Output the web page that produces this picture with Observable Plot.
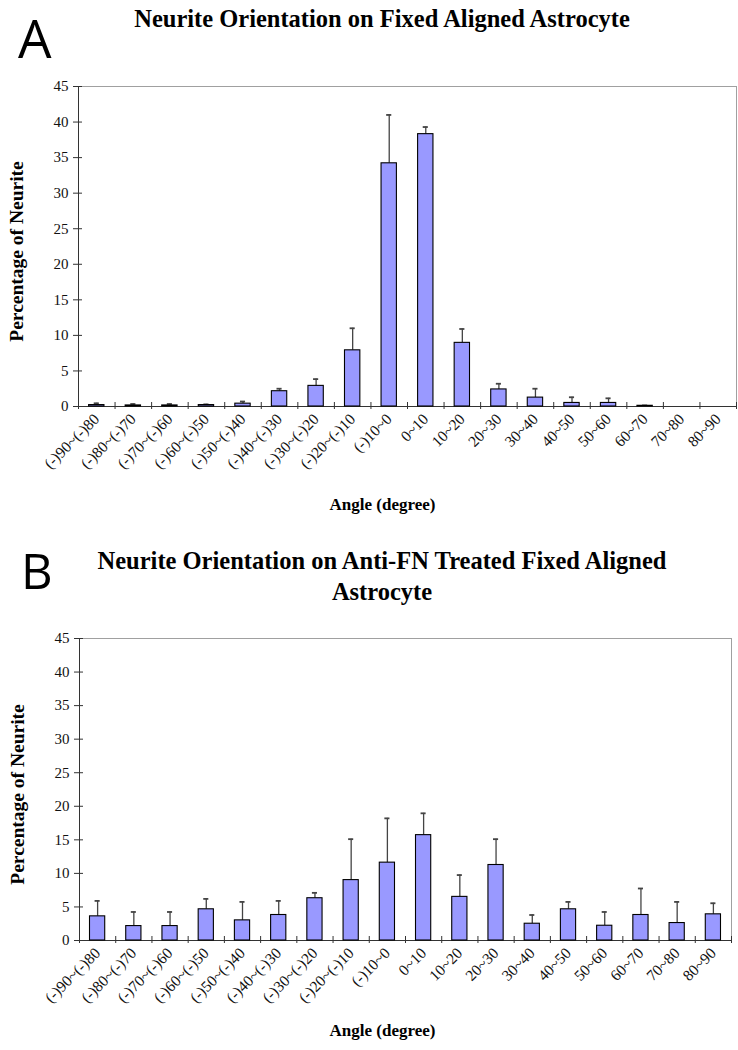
<!DOCTYPE html>
<html>
<head>
<meta charset="utf-8">
<script src="https://cdn.jsdelivr.net/npm/d3@7"></script>
<script src="https://cdn.jsdelivr.net/npm/@observablehq/plot@0.6"></script>
<style>
  html, body { margin: 0; padding: 0; background: #fff; }
  #page { position: relative; width: 738px; height: 1050px; overflow: hidden; }
  .panel { position: absolute; left: 0; font-family: "Open Sans", sans-serif; font-size: 53px; line-height: 53px; color: #000; }
  .title { position: absolute; left: 0; width: 764px; text-align: center; font-family: "Liberation Serif", "Times New Roman", serif; font-weight: bold; font-size: 24.5px; color: #000; }
  .chart { position: absolute; left: 0; }
</style>
</head>
<body>
<div id="page">
  <div class="panel" style="left:18px; top:11px;">A</div>
  <div class="title" style="top:7px; line-height:24px;">Neurite Orientation on Fixed Aligned Astrocyte</div>
  <div class="chart" id="chartA" style="top:60px;"></div>
  <div class="panel" style="left:21px; top:546px; font-size:49px; line-height:49px;">B</div>
  <div class="title" style="top:545px; line-height:31px;">Neurite Orientation on Anti-FN Treated Fixed Aligned<br>Astrocyte</div>
  <div class="chart" id="chartB" style="top:610px;"></div>
</div>
<script>
// Categories (angle bins)
const categories = ["(-)90~(-)80","(-)80~(-)70","(-)70~(-)60","(-)60~(-)50","(-)50~(-)40","(-)40~(-)30","(-)30~(-)20","(-)20~(-)10","(-)10~0","0~10","10~20","20~30","30~40","40~50","50~60","60~70","70~80","80~90"];

// Panel A: Fixed aligned astrocyte
const valuesA = [0.2,0.15,0.15,0.2,0.4,2.15,2.9,7.9,34.2,38.3,8.95,2.4,1.25,0.5,0.5,0.1,0,0];
const errorsA = [0.25,0.2,0.2,0.1,0.3,0.35,0.95,3.1,6.8,1.0,1.95,0.8,1.25,0.8,0.65,0.05,0,0];

// Panel B: Anti-FN treated fixed aligned astrocyte
const valuesB = [3.6,2.15,2.15,4.65,3.0,3.8,6.3,9.0,11.6,15.7,6.5,11.25,2.5,4.65,2.2,3.8,2.6,3.9];
const errorsB = [2.3,2.1,2.1,1.55,2.75,2.1,0.8,6.1,6.6,3.25,3.25,3.85,1.3,1.1,2.05,3.95,3.15,1.65];

const yTicks = d3.range(0, 46, 5);
const yLabel = "Percentage of Neurite";
const xLabel = "Angle (degree)";

function makeChart(values, errors, o) {
  const data = categories.map((c, i) => ({i, c, v: values[i], e: errors[i]}));
  const bars = data.filter(d => d.v > 0);
  const errs = data.filter(d => d.e > 0);
  const boundaries = d3.range(categories.length + 1);
  const centers = d3.range(categories.length).map(i => i + 0.5);
  return Plot.plot({
    width: 738,
    height: o.height,
    marginTop: o.marginTop,
    marginBottom: o.marginBottom,
    marginLeft: o.marginLeft,
    marginRight: o.marginRight,
    style: {fontFamily: "'Liberation Serif', 'Times New Roman', serif", fontSize: "14px", color: "#111", background: "#fff"},
    x: {domain: [0, categories.length]},
    y: {domain: [0, 45]},
    marks: [
      Plot.frame({stroke: "#a0a0a0"}),
      Plot.ruleY([0], {stroke: "#333"}),
      Plot.ruleX([0], {stroke: "#333"}),
      Plot.axisY({ticks: yTicks, tickSize: 5, tickPadding: 5, stroke: "#333", fontSize: 15, label: null}),
      Plot.axisY({ticks: yTicks, tickSize: -4, tickFormat: () => "", stroke: "#333", label: null}),
      Plot.axisX({ticks: boundaries, tickSize: 3, tickFormat: () => "", stroke: "#333", label: null}),
      Plot.axisX({ticks: boundaries, tickSize: -4, tickFormat: () => "", stroke: "#333", label: null}),
      Plot.axisX({ticks: centers, tickSize: 0, tickPadding: 10, tickRotate: -45, tickFormat: t => categories[Math.floor(t)], fontSize: 15.5, label: null}),
      Plot.ruleX(errs, {x: d => d.i + 0.5, y1: "v", y2: d => d.v + d.e, stroke: "#444", strokeWidth: 1.3}),
      Plot.ruleY(errs, {y: d => d.v + d.e, x1: d => d.i + 0.43, x2: d => d.i + 0.57, stroke: "#444", strokeWidth: 1.8}),
      Plot.rectY(bars, {x1: d => d.i + 0.29, x2: d => d.i + 0.71, y: "v", fill: "#9999ff", stroke: "#000", strokeWidth: 1.1}),
      Plot.text([yLabel], {frameAnchor: "left", rotate: -90, textAnchor: "middle", dx: -62, dy: 5, fontWeight: "bold", fontSize: 19.5, fill: "#000"}),
      Plot.text([xLabel], {frameAnchor: "bottom", lineAnchor: "middle", dx: o.xLabelDx, dy: o.xLabelDy, fontWeight: "bold", fontSize: 17, fill: "#000"})
    ]
  });
}

document.getElementById("chartA").append(makeChart(valuesA, errorsA, {
  height: 460, marginTop: 26, marginBottom: 114, marginLeft: 78, marginRight: 2, xLabelDx: -25, xLabelDy: 98
}));
document.getElementById("chartB").append(makeChart(valuesB, errorsB, {
  height: 440, marginTop: 28, marginBottom: 110, marginLeft: 79, marginRight: 7, xLabelDx: -23, xLabelDy: 90
}));
</script>
</body>
</html>
